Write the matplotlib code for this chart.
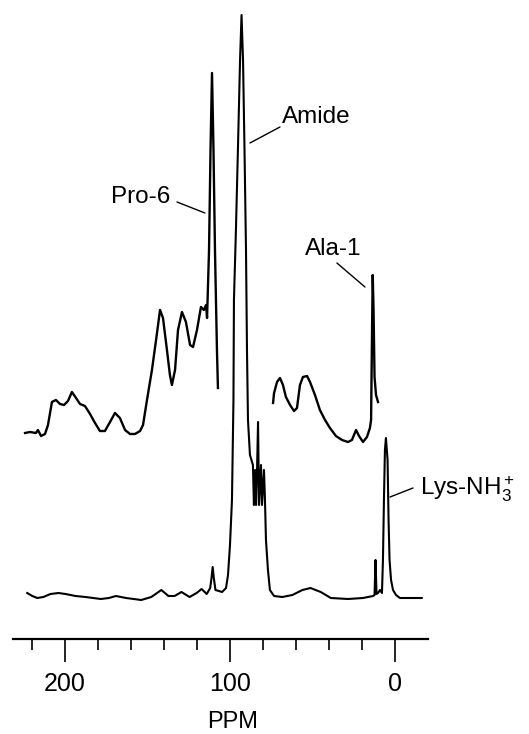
import matplotlib
matplotlib.use("Agg")
import matplotlib.pyplot as plt
from matplotlib.ticker import FixedLocator

plt.rcParams["font.family"] = ["Liberation Sans", "DejaVu Sans"]
plt.rcParams["mathtext.fontset"] = "custom"
plt.rcParams["mathtext.rm"] = "Liberation Sans"
plt.rcParams["mathtext.it"] = "Liberation Sans:italic"
plt.rcParams["mathtext.bf"] = "Liberation Sans:bold"

# Full spectrum (chemical shift in ppm, intensity in arbitrary units)
full_ppm = [222.9, 219.8, 216.8, 213.1, 208.8, 203.9, 199.7, 193.6, 187.5, 178.3,
            173.4, 169.1, 163.0, 153.8, 147.7, 141.6, 137.3, 133.6, 129.4, 124.5,
            120.2, 117.2, 114.1, 112.0, 111.2, 110.5, 109.8, 108.8, 104.8, 102.4,
            101.2, 100.0, 98.8, 97.9, 97.6, 96.4, 95.2, 93.9, 93.0, 92.1,
            91.2, 90.3, 89.7, 89.1, 87.9, 86.1, 85.5, 84.8, 84.2, 83.6,
            83.0, 82.4, 81.2, 80.6, 79.4, 78.8, 78.2, 77.0, 75.8, 73.3,
            68.3, 62.2, 56.1, 51.2, 45.0, 38.9, 28.5, 19.4, 13.3, 12.4,
            11.8, 11.2, 10.3, 9.1, 7.9, 7.3, 6.7, 6.1, 5.5, 4.5,
            3.9, 3.3, 2.4, 1.2, -0.6, -3.0, -16.2]
full_int = [5, 2, 0, 1, 4, 5, 4, 2, 1, -1,
            0, 2, 0, -2, 1, 8, 2, 2, 6, 1,
            5, 9, 4, 10, 20, 31, 20, 8, 6, 10,
            23, 53, 98, 198, 298, 368, 448, 538, 583, 538,
            448, 348, 248, 178, 143, 133, 93, 128, 93, 128,
            176, 93, 133, 93, 128, 98, 58, 28, 8, 2,
            1, 3, 8, 10, 6, 0, -1, 0, 2, 3,
            38, 4, 5, 8, 5, 38, 98, 148, 160, 138,
            78, 38, 18, 8, 3, 0, 0]

# Vertically expanded trace, low-field part
exp_left_ppm = [224.2, 221.2, 217.6, 216.4, 214.5, 212.1, 210.3, 207.9, 205.5, 203.0,
                200.6, 198.2, 195.8, 193.3, 190.9, 187.9, 184.8, 181.8, 178.8, 175.8,
                172.7, 169.7, 166.7, 163.6, 160.6, 157.6, 154.5, 152.7, 150.3, 147.3,
                144.8, 142.4, 140.6, 138.2, 136.4, 135.2, 133.3, 131.5, 129.1, 126.7,
                124.2, 122.4, 120.0, 117.6, 115.8, 114.5, 113.9, 112.7, 111.8, 110.9,
                110.0, 109.1, 107.9, 107.3]
exp_left_int = [0, 1, 0, 3, -3, -1, 8, 31, 33, 29,
                28, 32, 41, 35, 29, 27, 19, 10, 2, 2,
                11, 20, 15, 3, -1, -1, 2, 8, 33, 63,
                93, 123, 115, 83, 58, 48, 63, 103, 121, 111,
                88, 86, 103, 126, 123, 128, 115, 183, 283, 360,
                283, 183, 83, 45]

# Vertically expanded trace, high-field part
exp_right_ppm = [73.9, 73.3, 71.5, 69.7, 67.9, 66.1, 63.6, 61.2, 59.4, 57.6,
                 55.8, 53.3, 51.5, 48.5, 45.5, 42.4, 39.4, 35.8, 32.1, 28.5,
                 26.1, 23.6, 21.8, 19.4, 17.0, 15.2, 14.5, 13.9, 13.5, 13.0,
                 12.4, 11.5, 10.3]
exp_right_int = [30, 40, 51, 55, 48, 36, 28, 22, 25, 48,
                 56, 57, 51, 38, 23, 13, 5, -3, -7, -9,
                 -7, 3, -3, -9, -4, 5, 13, 103, 158, 123,
                 56, 38, 31]

expanded_offset = 165

major_ticks = [200, 100, 0]
major_labels = ["200", "100", "0"]
minor_ticks = [220, 180, 160, 140, 120, 80, 60, 40, 20]

fig = plt.figure(figsize=(5.29, 7.34), dpi=100)
ax = fig.add_axes([13 / 529, 1 - 639 / 734, 415 / 529, 639 / 734])

ax.plot(full_ppm, full_int, color="black", lw=1.5, solid_joinstyle="round")
ax.plot(exp_left_ppm, [v + expanded_offset for v in exp_left_int],
        color="black", lw=1.7, solid_joinstyle="round")
ax.plot(exp_right_ppm, [v + expanded_offset for v in exp_right_int],
        color="black", lw=1.7, solid_joinstyle="round")

ax.set_xlim(231.5, -20.0)
ax.set_ylim(-41, 598)

for side in ("top", "left", "right"):
    ax.spines[side].set_visible(False)
ax.spines["bottom"].set_linewidth(1.6)
ax.set_yticks([])

ax.xaxis.set_major_locator(FixedLocator(major_ticks))
ax.set_xticklabels(major_labels)
ax.xaxis.set_minor_locator(FixedLocator(minor_ticks))
ax.tick_params(axis="x", which="major", direction="out", length=16.5, width=1.2,
               pad=7, labelsize=18)
ax.tick_params(axis="x", which="minor", direction="out", length=8, width=1.2)

fig.text(233 / 529, 1 - 722 / 734, "PPM", ha="center", va="center", fontsize=17)

label_kw = dict(fontsize=17.5, color="black")
line_kw = dict(arrowstyle="-", color="black", lw=1.0, shrinkA=0, shrinkB=0)

ax.text(136.4, 401, "Pro-6", ha="right", va="center", **label_kw)
ax.annotate("", xy=(115.2, 385), xytext=(132.1, 396), arrowprops=line_kw)

ax.text(68.5, 475, "Amide", ha="left", va="baseline", **label_kw)
ax.annotate("", xy=(87.9, 455), xytext=(69.7, 471), arrowprops=line_kw)

ax.text(54.5, 343, "Ala-1", ha="left", va="baseline", **label_kw)
ax.annotate("", xy=(18.2, 311), xytext=(35.2, 335), arrowprops=line_kw)

ax.text(-15.2, 103, r"Lys-NH$_3^+$", ha="left", va="baseline", **label_kw)
ax.annotate("", xy=(3.0, 101), xytext=(-10.9, 110), arrowprops=line_kw)

fig.savefig("out.png", dpi=100)
